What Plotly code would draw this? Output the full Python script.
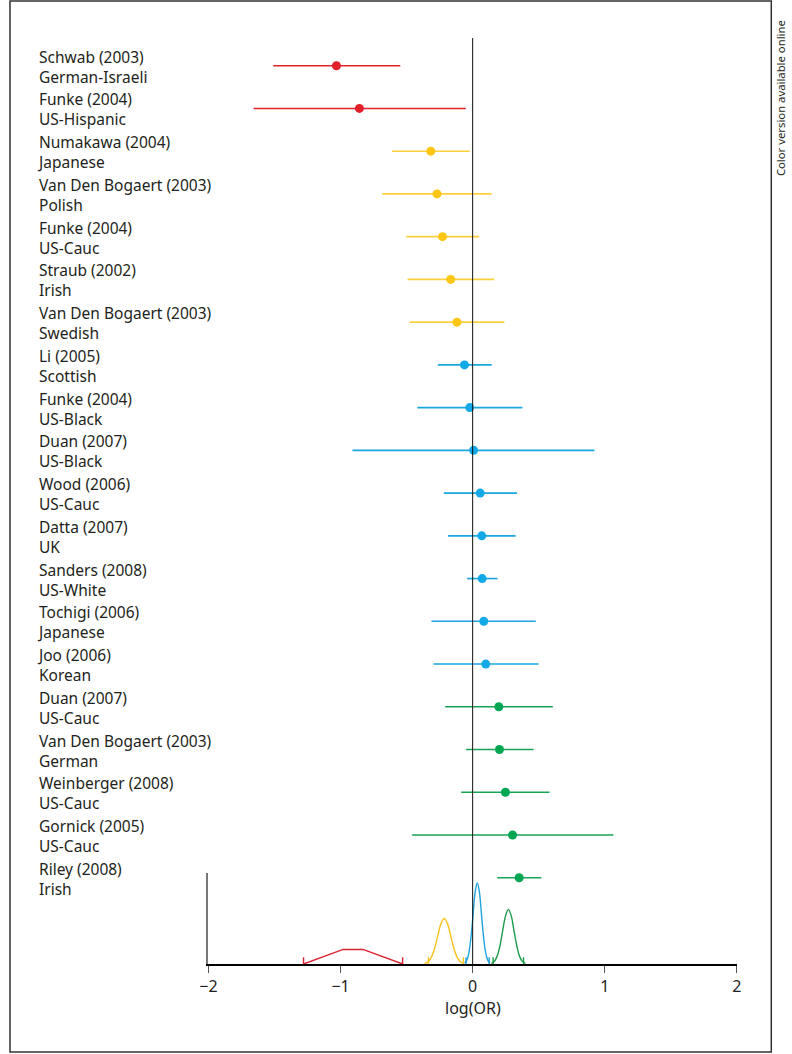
import plotly.graph_objects as go

W, H = 792, 1054

studies = ["Schwab (2003)", "Funke (2004)", "Numakawa (2004)", "Van Den Bogaert (2003)",
           "Funke (2004)", "Straub (2002)", "Van Den Bogaert (2003)", "Li (2005)",
           "Funke (2004)", "Duan (2007)", "Wood (2006)", "Datta (2007)",
           "Sanders (2008)", "Tochigi (2006)", "Joo (2006)", "Duan (2007)",
           "Van Den Bogaert (2003)", "Weinberger (2008)", "Gornick (2005)", "Riley (2008)"]
populations = ["German-Israeli", "US-Hispanic", "Japanese", "Polish",
               "US-Cauc", "Irish", "Swedish", "Scottish",
               "US-Black", "US-Black", "US-Cauc", "UK",
               "US-White", "Japanese", "Korean", "US-Cauc",
               "German", "US-Cauc", "US-Cauc", "Irish"]
log_or = [-1.031, -0.857, -0.317, -0.270, -0.228, -0.166, -0.119, -0.062,
          -0.022, 0.007, 0.057, 0.069, 0.072, 0.084, 0.099, 0.198,
          0.203, 0.248, 0.302, 0.352]
ci_low = [-1.509, -1.658, -0.610, -0.684, -0.503, -0.493, -0.478, -0.263,
          -0.419, -0.910, -0.218, -0.186, -0.042, -0.312, -0.297, -0.208,
          -0.050, -0.087, -0.458, 0.186]
ci_high = [-0.548, -0.052, -0.022, 0.144, 0.050, 0.164, 0.240, 0.144,
           0.377, 0.922, 0.335, 0.325, 0.188, 0.478, 0.498, 0.607,
           0.461, 0.582, 1.066, 0.520]
group = ["red", "red", "yellow", "yellow", "yellow", "yellow", "yellow", "blue",
         "blue", "blue", "blue", "blue", "blue", "blue", "blue", "green",
         "green", "green", "green", "green"]

# pooled density curves (relative height units)
dens_red_x = [-1.28, -0.98, -0.83, -0.53]
dens_red_y = [0.0, 1.6, 1.6, 0.0]
dens_yellow_x = [-0.365, -0.34, -0.315, -0.29, -0.265, -0.24, -0.215, -0.19, -0.165, -0.14, -0.115, -0.09, -0.065]
dens_yellow_y = [0.06, 0.22, 0.68, 1.62, 3.03, 4.41, 5.0, 4.41, 3.03, 1.62, 0.68, 0.22, 0.06]
dens_blue_x = [-0.06, -0.045, -0.029, -0.013, 0.003, 0.019, 0.035, 0.051, 0.067, 0.083, 0.099, 0.115, 0.13]
dens_blue_y = [0.1, 0.4, 1.2, 2.9, 5.4, 7.9, 8.9, 7.9, 5.4, 2.9, 1.2, 0.4, 0.1]
dens_green_x = [0.141, 0.163, 0.184, 0.206, 0.227, 0.249, 0.27, 0.292, 0.313, 0.335, 0.356, 0.378, 0.399]
dens_green_y = [0.07, 0.26, 0.81, 1.95, 3.64, 5.29, 6.0, 5.29, 3.64, 1.95, 0.81, 0.26, 0.07]
dens_marks = {"red": [-1.28, -0.53], "yellow": [-0.335, -0.07], "blue": [-0.05, 0.125], "green": [0.155, 0.385]}

x_ticks = [-2, -1, 0, 1, 2]
x_tick_text = ["\u22122", "\u22121", "0", "1", "2"]

point_colors = {"red": "#e2202a", "yellow": "#fcc612", "blue": "#12a9e6", "green": "#00a651"}
line_colors = {"red": "#e2202a", "yellow": "#fbd03a", "blue": "#1aa6df", "green": "#16a457"}
dens_colors = {"red": "#d9232e", "yellow": "#f8c21c", "blue": "#1ea3dc", "green": "#1e9b4b"}

FONT = "Noto Sans"
TXT = "#231f20"

fig = go.Figure()

rows = list(range(len(studies)))
for g in ["red", "yellow", "blue", "green"]:
    idx = [i for i in rows if group[i] == g]
    fig.add_trace(go.Scatter(
        x=[log_or[i] for i in idx], y=[i for i in idx], mode="markers",
        marker=dict(size=9, color=point_colors[g], line=dict(width=0)),
        error_x=dict(type="data", symmetric=False,
                     array=[ci_high[i] - log_or[i] for i in idx],
                     arrayminus=[log_or[i] - ci_low[i] for i in idx],
                     width=0, thickness=1.6, color=line_colors[g]),
        xaxis="x", yaxis="y", showlegend=False, cliponaxis=False))

for g, xs, ys in [("red", dens_red_x, dens_red_y), ("yellow", dens_yellow_x, dens_yellow_y),
                  ("blue", dens_blue_x, dens_blue_y), ("green", dens_green_x, dens_green_y)]:
    fig.add_trace(go.Scatter(x=xs, y=ys, mode="lines",
                             line=dict(color=dens_colors[g], width=1.4,
                                       shape="linear" if g == "red" else "spline"),
                             xaxis="x", yaxis="y2", showlegend=False, cliponaxis=False))
    for m in dens_marks[g]:
        fig.add_trace(go.Scatter(x=[m, m], y=[0, 0.75], mode="lines",
                                 line=dict(color=dens_colors[g], width=1.4),
                                 xaxis="x", yaxis="y2", showlegend=False, cliponaxis=False))

px_x0, px_x1 = 203, 741
px_top, px_base, px_dtop = 38, 964, 873
row0, row_step = 65.7, 42.74


def py(p):
    return (H - p) / H


fig.update_layout(
    width=W, height=H, margin=dict(l=0, r=0, t=0, b=0),
    paper_bgcolor="white", plot_bgcolor="rgba(0,0,0,0)",
    font=dict(family=FONT, size=16, color=TXT),
    xaxis=dict(domain=[px_x0 / W, px_x1 / W], range=[-2, 2], tickvals=x_ticks,
               ticktext=x_tick_text,
               showline=True, linecolor="#000", linewidth=1.5, ticks="outside",
               ticklen=7, tickwidth=1.2, tickcolor="#555", showgrid=False, zeroline=False,
               anchor="y2", tickfont=dict(size=16, family=FONT, color=TXT)),
    yaxis=dict(domain=[py(px_base), py(px_top)],
               range=[(px_base - row0) / row_step, (px_top - row0) / row_step],
               visible=False, showgrid=False, zeroline=False),
    yaxis2=dict(domain=[py(px_base), py(px_dtop)], range=[0, 10], anchor="x",
                showline=True, linecolor="#777", linewidth=1.5, showticklabels=False,
                ticks="", showgrid=False, zeroline=False),
)

# zero reference line
fig.add_shape(type="line", xref="x", yref="paper", x0=0, x1=0, y0=py(px_base), y1=py(px_top),
              line=dict(color="#111", width=1))
# outer frame
fig.add_shape(type="rect", xref="paper", yref="paper", x0=1 / W, x1=776 / W, y0=py(1052), y1=py(1),
              line=dict(color="#333", width=1.5))

for i in rows:
    # a leading "J" overhangs to the left and pushes the text box; compensate
    j_fix = -2 if (studies[i].startswith("J") or populations[i].startswith("J")) else 0
    fig.add_annotation(x=28 / W, xref="paper", y=i, yref="y",
                       text=studies[i] + "<br>" + populations[i], showarrow=False,
                       xanchor="left", yanchor="middle", align="left", yshift=-1, xshift=j_fix,
                       font=dict(family=FONT, size=15.5, color=TXT))

fig.add_annotation(x=0, xref="x", y=py(1008), yref="paper", text="log(OR)", showarrow=False,
                   xanchor="center", yanchor="middle", font=dict(family=FONT, size=16, color=TXT))
fig.add_annotation(x=785 / W, xref="paper", y=py(98), yref="paper", text="Color version available online",
                   showarrow=False, textangle=-90, xanchor="center", yanchor="middle",
                   font=dict(family=FONT, size=11.3, color=TXT))

fig.write_html("out.html", config={"displayModeBar": False},
               post_script="document.body.style.margin='0px';document.body.style.overflow='hidden';")
